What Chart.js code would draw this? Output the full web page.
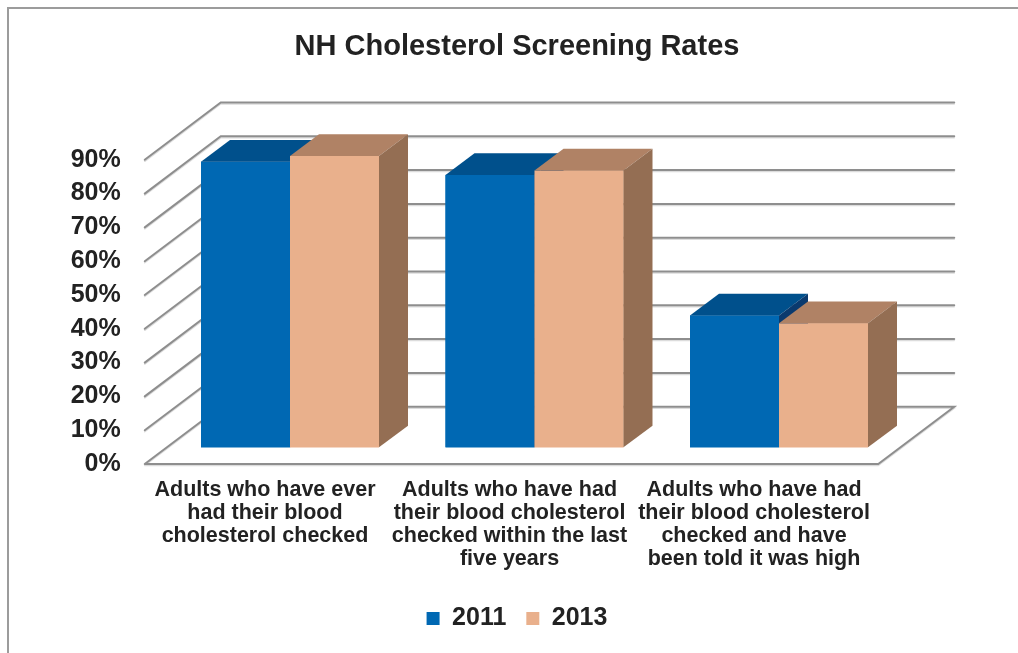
<!DOCTYPE html>
<html>
<head>
<meta charset="utf-8">
<script src="https://cdn.jsdelivr.net/npm/chart.js@4.4.1/dist/chart.umd.min.js"></script>
<style>
    html, body { margin: 0; padding: 0; background: #fff; }
    #wrap { width: 1018px; height: 653px; }
</style>
</head>
<body>
<div id="wrap"><canvas id="myChart" width="1018" height="653"></canvas></div>
<script>
// chart data
var categories = [
    ["Adults who have ever", "had their blood", "cholesterol checked"],
    ["Adults who have had", "their blood cholesterol", "checked within the last", "five years"],
    ["Adults who have had", "their blood cholesterol", "checked and have", "been told it was high"]
];
var seriesNames = ["2011", "2013"];
var values2011 = [84.5, 80.6, 39.0];
var values2013 = [86.2, 81.9, 36.7];
var yTicks = [0, 10, 20, 30, 40, 50, 60, 70, 80, 90];

var frontColors = ["#0068b3", "#e9b08c"];
var topColors = ["#00508c", "#b08265"];
var sideColors = ["#0a3a6e", "#946e53"];

// depth of the box and of the bars (oblique 3d look)
var wallDepth = { x: 76, y: -57.3 };
var barDepth = { x: 29, y: -21.7 };
var frontShift = 23;

var threeD = {
    id: 'threeD',
    beforeDraw: function (chart) {
        var ctx = chart.ctx;
        ctx.save();
        ctx.fillStyle = '#fff';
        ctx.fillRect(0, 0, chart.width, chart.height);
        ctx.strokeStyle = '#9c9c9c';
        ctx.lineWidth = 2;
        ctx.strokeRect(8, 8, chart.width + 50, chart.height + 50);
        ctx.restore();
    },
    beforeDatasetsDraw: function (chart) {
        var ctx = chart.ctx;
        var area = chart.chartArea;
        var y = chart.scales.y;
        var fl = area.left - frontShift, fr = area.right - frontShift;
        var bl = fl + wallDepth.x, br = fr + wallDepth.x;
        ctx.save();
        ctx.lineCap = 'round';
        var line = function (pts, col, w) {
            ctx.strokeStyle = col;
            ctx.lineWidth = w;
            ctx.beginPath();
            ctx.moveTo(pts[0][0], pts[0][1]);
            for (var i = 1; i < pts.length; i++) ctx.lineTo(pts[i][0], pts[i][1]);
            ctx.stroke();
        };
        yTicks.forEach(function (v) {
            var py = y.getPixelForValue(v);
            var by = py + wallDepth.y;
            var pts;
            if (v === 0) {
                pts = [[fl, py], [bl, by], [br, by], [fr, py], [fl, py]];
            } else {
                pts = [[fl, py], [bl, by], [br, by]];
            }
            line(pts.map(function (p) { return [p[0], p[1] + 1.5]; }), '#dcdcdc', 1.5);
            line(pts, '#8e8e8e', 2);
        });
        ctx.restore();
    },
    afterDatasetsDraw: function (chart) {
        var ctx = chart.ctx;
        ctx.save();
        var nCat = categories.length;
        for (var c = 0; c < nCat; c++) {
            for (var d = 0; d < chart.data.datasets.length; d++) {
                var el = chart.getDatasetMeta(d).data[c];
                var p = el.getProps(['x', 'y', 'base', 'width'], true);
                var l = p.x - p.width / 2, r = p.x + p.width / 2;
                var t = p.y, b = p.base;
                // front
                ctx.fillStyle = frontColors[d];
                ctx.fillRect(l, t, r - l, b - t);
                // top
                ctx.fillStyle = topColors[d];
                ctx.beginPath();
                ctx.moveTo(l, t);
                ctx.lineTo(l + barDepth.x, t + barDepth.y);
                ctx.lineTo(r + barDepth.x, t + barDepth.y);
                ctx.lineTo(r, t);
                ctx.closePath();
                ctx.fill();
                // side
                ctx.fillStyle = sideColors[d];
                ctx.beginPath();
                ctx.moveTo(r, t);
                ctx.lineTo(r + barDepth.x, t + barDepth.y);
                ctx.lineTo(r + barDepth.x, b + barDepth.y);
                ctx.lineTo(r, b);
                ctx.closePath();
                ctx.fill();
            }
        }
        ctx.restore();
    }
};

new Chart("myChart", {
    type: "bar",
    data: {
        labels: categories,
        datasets: [{
            label: seriesNames[0],
            data: values2011,
            backgroundColor: frontColors[0],
            yAxisID: 'y2'
        }, {
            label: seriesNames[1],
            data: values2013,
            backgroundColor: frontColors[1],
            yAxisID: 'y2'
        }]
    },
    plugins: [threeD],
    options: {
        responsive: false,
        animation: false,
        devicePixelRatio: 1,
        layout: { padding: { left: 16, right: 0, top: 0, bottom: 12 } },
        datasets: {
            bar: { barPercentage: 1.0, categoryPercentage: 0.728, borderWidth: 0 }
        },
        scales: {
            x: {
                grid: { display: false, drawTicks: false },
                border: { display: false },
                ticks: {
                    autoSkip: false,
                    maxRotation: 0,
                    padding: 14,
                    labelOffset: -25,
                    color: '#222',
                    font: { family: 'Liberation Sans, Arial', size: 21.5, weight: 'bold', lineHeight: 1.08 }
                },
                afterFit: function (scale) { scale.height = 122; }
            },
            y: {
                position: 'left',
                min: 0,
                max: 100,
                grid: { display: false, drawTicks: false },
                border: { display: false },
                ticks: {
                    stepSize: 10,
                    padding: 47,
                    color: '#222',
                    font: { family: 'Liberation Sans, Arial', size: 25, weight: 'bold' },
                    callback: function (v) { return yTicks.indexOf(v) >= 0 ? v + '%' : null; }
                },
                afterFit: function (scale) { scale.width = 151.75; }
            },
            y2: {
                position: 'right',
                min: -4.93,
                max: 95.07,
                grid: { display: false, drawTicks: false },
                border: { display: false },
                ticks: { display: false },
                afterFit: function (scale) { scale.width = 116.75; }
            }
        },
        plugins: {
            title: {
                display: true,
                text: "NH Cholesterol Screening Rates",
                color: '#222',
                font: { family: 'Liberation Sans, Arial', size: 29, weight: 'bold', lineHeight: 1.2 },
                padding: { top: 30, bottom: 61.2 }
            },
            legend: {
                position: 'bottom',
                labels: {
                    boxWidth: 13,
                    boxHeight: 13,
                    padding: 20,
                    color: '#222',
                    font: { family: 'Liberation Sans, Arial', size: 25, weight: 'bold' }
                }
            },
            tooltip: { enabled: false }
        }
    }
});
</script>
</body>
</html>
